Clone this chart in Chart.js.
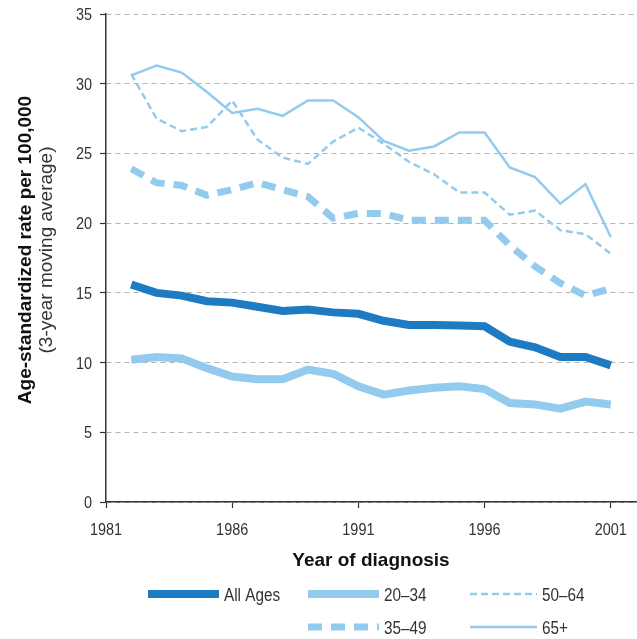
<!DOCTYPE html>
<html>
<head>
<meta charset="utf-8">
<script src="https://cdn.jsdelivr.net/npm/chart.js@4"></script>
<style>
  html, body { margin: 0; padding: 0; background: #fff; }
</style>
</head>
<body>
<canvas id="chart" width="637" height="639"></canvas>
<script>
// ====== DATA ======
const years = [1982, 1983, 1984, 1985, 1986, 1987, 1988, 1989, 1990, 1991,
               1992, 1993, 1994, 1995, 1996, 1997, 1998, 1999, 2000, 2001];
const allAges = [15.6, 15.0, 14.8, 14.4, 14.3, 14.0, 13.7, 13.8, 13.6, 13.5,
                 13.0, 12.7, 12.7, 12.65, 12.6, 11.5, 11.1, 10.4, 10.4, 9.8];
const age20to34 = [10.2, 10.4, 10.3, 9.6, 9.0, 8.8, 8.8, 9.5, 9.2, 8.3,
                   7.7, 8.0, 8.2, 8.3, 8.1, 7.1, 7.0, 6.7, 7.2, 7.0];
const age35to49 = [23.9, 22.9, 22.7, 22.0, 22.4, 22.9, 22.4, 21.9, 20.35, 20.7,
                   20.7, 20.2, 20.2, 20.2, 20.2, 18.4, 16.9, 15.7, 14.8, 15.3];
const age50to64 = [30.7, 27.5, 26.6, 26.9, 28.8, 26.0, 24.7, 24.25, 25.85, 26.85,
                   25.7, 24.4, 23.5, 22.2, 22.2, 20.6, 20.9, 19.5, 19.2, 17.8];
const age65plus = [30.6, 31.3, 30.8, 29.4, 27.9, 28.2, 27.7, 28.8, 28.8, 27.6,
                   25.9, 25.2, 25.5, 26.5, 26.5, 24.0, 23.3, 21.4, 22.8, 19.0];
const xTicks = [1981, 1986, 1991, 1996, 2001];
const yTicks = [0, 5, 10, 15, 20, 25, 30, 35];

const DARK = "#1e7bc1";
const LIGHT = "#93cbee";
const TEXT = "#333333";
const SANS = "'Liberation Sans', Arial, sans-serif";
const SQUEEZE = 0.85; // fake a condensed face (Helvetica Condensed in the original)

function pts(values) {
  return years.map((yr, i) => ({ x: yr, y: values[i] }));
}

// draw text squeezed horizontally, baseline at y
function condensedText(ctx, text, x, y, align) {
  ctx.save();
  ctx.translate(x, y);
  ctx.scale(SQUEEZE, 1);
  ctx.textAlign = align;
  ctx.textBaseline = "alphabetic";
  ctx.fillText(text, 0, 0);
  ctx.restore();
}

// ====== LEGEND + AXIS TEXT (custom layout) ======
const legendSlots = [
  { label: "All Ages", col: 0, row: 0 },
  { label: "20–34", col: 1, row: 0 },
  { label: "50–64", col: 2, row: 0 },
  { label: "35–49", col: 1, row: 1 },
  { label: "65+", col: 2, row: 1 },
];
const legendCols = [{ x: 148, w: 71 }, { x: 308, w: 71 }, { x: 470, w: 67 }];
const legendRows = [594, 627];

const extrasPlugin = {
  id: "extras",
  afterDraw(chart) {
    const ctx = chart.ctx;
    const area = chart.chartArea;
    const xs = chart.scales.x;
    const ys = chart.scales.y;

    // tick labels
    ctx.save();
    ctx.fillStyle = TEXT;
    ctx.font = "17px " + SANS;
    yTicks.forEach((v) => condensedText(ctx, String(v), 92, ys.getPixelForValue(v) + 6, "right"));
    xTicks.forEach((v) => condensedText(ctx, String(v), xs.getPixelForValue(v), 535, "center"));
    ctx.restore();

    // x axis title
    ctx.save();
    ctx.fillStyle = "#111";
    ctx.font = "bold 19px " + SANS;
    ctx.textAlign = "center";
    ctx.textBaseline = "alphabetic";
    ctx.fillText("Year of diagnosis", (area.left + area.right) / 2, 566);
    ctx.restore();

    // y axis title, two lines
    const cy = 250;
    ctx.save();
    ctx.translate(31, cy);
    ctx.rotate(-Math.PI / 2);
    ctx.fillStyle = "#111";
    ctx.font = "bold 19px " + SANS;
    ctx.textAlign = "center";
    ctx.textBaseline = "alphabetic";
    ctx.fillText("Age-standardized rate per 100,000", 0, 0);
    ctx.restore();
    ctx.save();
    ctx.translate(52, cy);
    ctx.rotate(-Math.PI / 2);
    ctx.fillStyle = TEXT;
    ctx.font = "19px " + SANS;
    ctx.textAlign = "center";
    ctx.textBaseline = "alphabetic";
    ctx.fillText("(3-year moving average)", 0, 0);
    ctx.restore();

    // legend
    legendSlots.forEach((slot) => {
      const ds = chart.data.datasets.find((d) => d.label === slot.label);
      if (!ds) return;
      const c = legendCols[slot.col];
      const y = legendRows[slot.row];
      ctx.save();
      ctx.strokeStyle = ds.borderColor;
      ctx.lineWidth = ds.borderWidth;
      ctx.setLineDash(ds.borderDash || []);
      ctx.beginPath();
      ctx.moveTo(c.x, y);
      ctx.lineTo(c.x + c.w, y);
      ctx.stroke();
      ctx.setLineDash([]);
      ctx.fillStyle = TEXT;
      ctx.font = "18px " + SANS;
      condensedText(ctx, slot.label, c.x + c.w + 5, y + 7, "left");
      ctx.restore();
    });
  },
};

// ====== CHART ======
const ctx = document.getElementById("chart").getContext("2d");
new Chart(ctx, {
  type: "line",
  data: {
    datasets: [
      { label: "65+", data: pts(age65plus), borderColor: LIGHT, borderWidth: 2.5, borderDash: [] },
      { label: "50–64", data: pts(age50to64), borderColor: LIGHT, borderWidth: 2.5, borderDash: [7, 4] },
      { label: "35–49", data: pts(age35to49), borderColor: LIGHT, borderWidth: 7, borderDash: [14, 9] },
      { label: "20–34", data: pts(age20to34), borderColor: LIGHT, borderWidth: 8, borderDash: [] },
      { label: "All Ages", data: pts(allAges), borderColor: DARK, borderWidth: 8, borderDash: [] },
    ],
  },
  options: {
    responsive: false,
    animation: false,
    layout: { padding: { left: 0, top: 14, right: 1, bottom: 0 } },
    elements: {
      point: { radius: 0 },
      line: { tension: 0, fill: false },
    },
    plugins: {
      legend: { display: false },
      tooltip: { enabled: false },
    },
    scales: {
      x: {
        type: "linear",
        min: 1981,
        max: 2002,
        afterBuildTicks: (s) => { s.ticks = xTicks.map((v) => ({ value: v })); },
        afterFit: (s) => { s.height = 137; },
        ticks: { display: false },
        grid: { drawOnChartArea: false, drawTicks: true, tickLength: 6, tickColor: TEXT, tickWidth: 1.2 },
        border: { display: true, color: TEXT, width: 1.5 },
      },
      y: {
        type: "linear",
        min: 0,
        max: 35,
        afterBuildTicks: (s) => { s.ticks = yTicks.map((v) => ({ value: v })); },
        afterFit: (s) => { s.width = 106; },
        ticks: { display: false },
        grid: { color: "#b3b3b3", lineWidth: 1, drawTicks: true, tickLength: 6, tickColor: TEXT, tickWidth: 1.2 },
        border: { display: true, color: TEXT, width: 1.5, dash: [5, 4] },
      },
    },
  },
  plugins: [extrasPlugin],
});
</script>
</body>
</html>
